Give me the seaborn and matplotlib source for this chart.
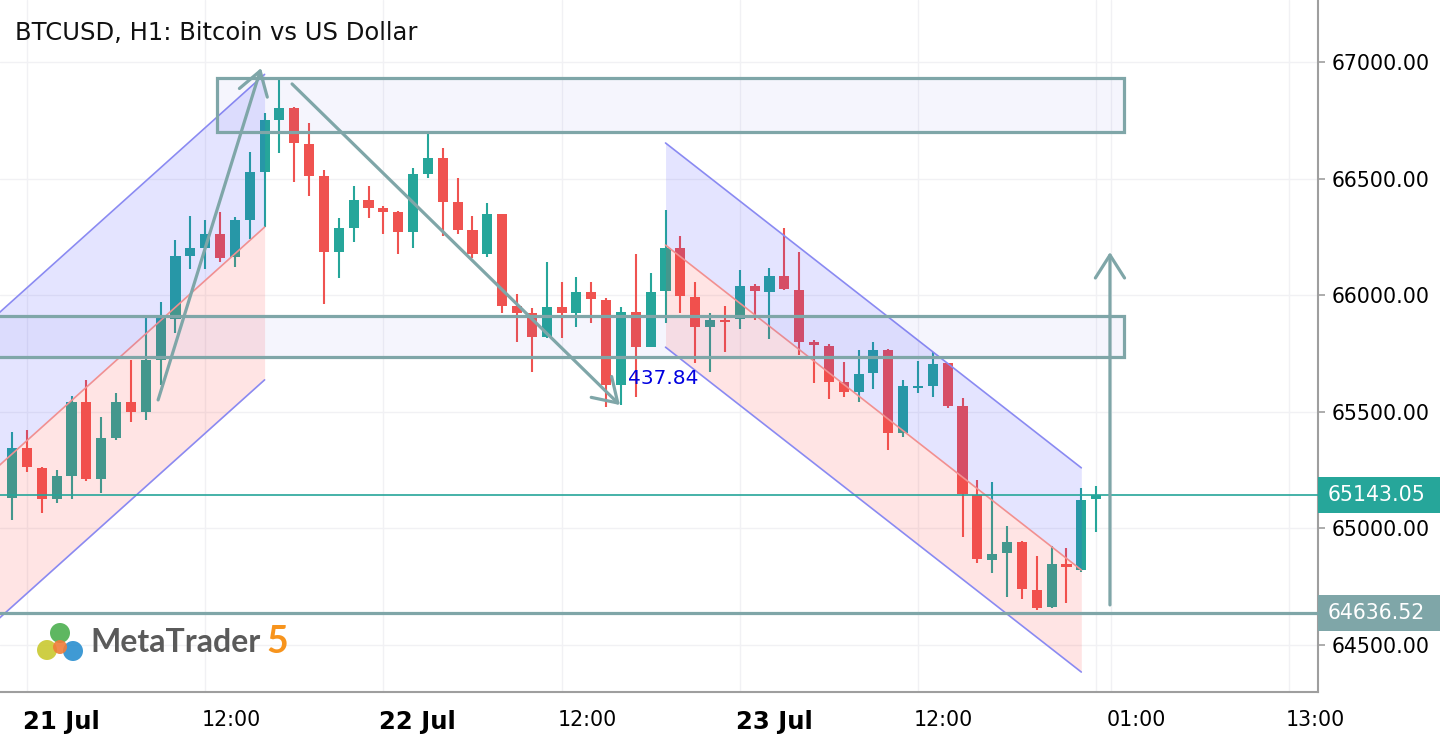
import numpy as np
import pandas as pd
import matplotlib
matplotlib.use("Agg")
import matplotlib.pyplot as plt
import matplotlib.transforms as mtransforms
from matplotlib.patches import Rectangle, Circle
import seaborn as sns

# hourly candles, hour 0 = 21 Jul 00:00
hours = list(range(-1, 73))
opens = [65130, 65344, 65258, 65125, 65225, 65543, 65211, 65386, 65543, 65500,
         65722, 65897, 66168, 66201, 66262, 66165, 66323, 66530, 66751, 66801,
         66648, 66511, 66187, 66289, 66408, 66375, 66356, 66272, 66518, 66587,
         66398, 66280, 66177, 66347, 65954, 65922, 65820, 65951, 65922, 66012,
         65979, 65615, 65927, 65779, 66019, 66201, 65994, 65862, 65894, 65897,
         66039, 66015, 66082, 66022, 65801, 65782, 65629, 65586, 65665, 65765,
         65408, 65601, 65611, 65708, 65525, 65143, 64865, 64893, 64943, 64736,
         64662, 64847, 64822, 65125]
highs = [65415, 65422, 65262, 65250, 65568, 65636, 65479, 65579, 65722, 65905,
         65972, 66237, 66340, 66323, 66358, 66334, 66615, 66780, 66923, 66805,
         66737, 66537, 66330, 66468, 66468, 66383, 66360, 66544, 66691, 66630,
         66501, 66340, 66397, 66350, 66004, 65944, 66141, 66058, 66079, 66055,
         65987, 65951, 66177, 66097, 66365, 66254, 66058, 65925, 65954, 66108,
         66048, 66115, 66287, 66187, 65808, 65791, 65712, 65765, 65798, 65768,
         65636, 65719, 65758, 65710, 65558, 65208, 65200, 65010, 64946, 64882,
         64925, 64915, 65172, 65182]
lows = [65036, 65243, 65065, 65108, 65125, 65205, 65151, 65379, 65458, 65465,
        65615, 65837, 66111, 66111, 66144, 66120, 66240, 66291, 66609, 66487,
        66425, 65962, 66075, 66230, 66332, 66262, 66177, 66204, 66504, 66254,
        66262, 66158, 66163, 65922, 65801, 65672, 65818, 65818, 65862, 65880,
        65519, 65529, 65565, 65777, 65880, 65922, 65708, 65672, 65758, 65854,
        65894, 65811, 66022, 65744, 65622, 65554, 65562, 65543, 65597, 65336,
        65391, 65579, 65562, 65518, 64962, 64850, 64808, 64705, 64696, 64650,
        64660, 64679, 64814, 64986]
closes = [65345, 65262, 65125, 65225, 65543, 65211, 65386, 65543, 65500, 65722,
          65901, 66168, 66201, 66262, 66158, 66323, 66527, 66751, 66801, 66651,
          66513, 66187, 66287, 66408, 66375, 66358, 66272, 66518, 66587, 66401,
          66280, 66177, 66347, 65954, 65922, 65820, 65951, 65922, 66012, 65982,
          65615, 65927, 65779, 66012, 66201, 65998, 65862, 65894, 65886, 66039,
          66018, 66082, 66025, 65801, 65786, 65629, 65586, 65662, 65765, 65408,
          65611, 65611, 65705, 65525, 65148, 64868, 64890, 64943, 64739, 64657,
          64847, 64833, 65122, 65143.05]

# regression channels: start/end hour, middle price at both ends, half width
ch1_hours = [-4, 16]
ch1_mid = [65148, 66292]
ch1_half = 655
ch2_hours = [43, 71]
ch2_mid = [66215, 64822]
ch2_half = 437.84

# zones: (hour from, hour to, price low, price high)
zone_top = (12.8, 73.87, 66700, 66931)
zone_mid = (-3, 73.87, 65735, 65911)

# arrows: (hour, price) start -> tip
arrow_up1 = ((8.83, 65551), (15.76, 66974))
arrow_down = ((17.85, 66906), (39.93, 65529))
arrow_up2 = ((72.93, 64672), (72.93, 66185))
arrow_label = "437.84"
arrow_label_pos = (40.45, 65645)

last_price = 65143.05
support_price = 64636.52

y_ticks = [64500, 65000, 65500, 66000, 66500, 67000]
x_ticks = [0, 12, 24, 36, 48, 60, 72, 73, 85]
x_labels = ["21 Jul", "12:00", "22 Jul", "12:00", "23 Jul", "12:00", "", "01:00", "13:00"]

BULL = "#26a69a"
BEAR = "#ef5350"
ZONE = "#7fa6a8"
AXIS = "#9e9e9e"

sns.set_theme(style="white")
plt.rcParams["font.family"] = ["DejaVu Sans"]

W, H = 1442, 740
fig = plt.figure(figsize=(W / 100, H / 100), dpi=100)
ax = fig.add_axes([0, 48 / H, 1318 / W, 692 / H])

df = pd.DataFrame({"t": hours, "o": opens, "h": highs, "l": lows, "c": closes})
df["up"] = df["c"] >= df["o"]
colors = np.where(df["up"], BULL, BEAR)
body_lo = np.minimum(df["o"], df["c"])
body_h = np.maximum(np.abs(df["c"] - df["o"]), 5)

ax.vlines(df["t"], df["l"], df["h"], colors=colors, lw=1.5, zorder=2)
ax.bar(df["t"], body_h, bottom=body_lo, width=0.68, color=colors, lw=0, zorder=2)

# channels
for hrs, mid, half in [(ch1_hours, ch1_mid, ch1_half), (ch2_hours, ch2_mid, ch2_half)]:
    t = np.array(hrs, dtype=float)
    m = np.array(mid, dtype=float)
    ax.fill_between(t, m, m + half, color=(0.2, 0.2, 1.0), alpha=0.13, lw=0, zorder=3)
    ax.fill_between(t, m - half, m, color=(1.0, 0.25, 0.25), alpha=0.14, lw=0, zorder=3)
    sns.lineplot(x=t, y=m + half, color="#8a8af2", lw=1.2, ax=ax, zorder=3)
    sns.lineplot(x=t, y=m - half, color="#8a8af2", lw=1.2, ax=ax, zorder=3)
    sns.lineplot(x=t, y=m, color="#f29090", lw=1.2, ax=ax, zorder=3)

# zones
for x0, x1, p0, p1 in [zone_top, zone_mid]:
    ax.add_patch(Rectangle((x0, p0), x1 - x0, p1 - p0, facecolor=(0.3, 0.3, 0.9, 0.05),
                           edgecolor=ZONE, lw=2.3, zorder=4))

# horizontal levels
ax.axhline(last_price, color=BULL, lw=1.2, zorder=4)
ax.axhline(support_price, color=ZONE, lw=2.3, zorder=4)

# arrows
for (start, tip) in [arrow_up1, arrow_down, arrow_up2]:
    ax.annotate("", xy=tip, xytext=start,
                arrowprops=dict(arrowstyle="->,head_length=1.65,head_width=1.05",
                                color=ZONE, lw=2.3, mutation_scale=10,
                                shrinkA=0, shrinkB=0),
                zorder=5)
ax.text(arrow_label_pos[0], arrow_label_pos[1], arrow_label, color="#0000e0",
        fontsize=14.5, ha="left", va="center", zorder=6)

# axes
ax.set_xlim(-1.818, 86.94)
ax.set_ylim(64298.6, 67265.9)
for s in ["left", "top"]:
    ax.spines[s].set_visible(False)
for s in ["right", "bottom"]:
    ax.spines[s].set_color(AXIS)
    ax.spines[s].set_linewidth(1.5)

ax.yaxis.tick_right()
ax.set_yticks(y_ticks)
ax.set_yticklabels([f"{v:.2f}" for v in y_ticks])
ax.set_xticks(x_ticks)
ax.set_xticklabels(x_labels, ha="left")
ax.tick_params(axis="both", colors=AXIS, length=5, width=1.2, labelcolor="black",
               labelsize=14.8)
ax.tick_params(axis="y", pad=5)
ax.tick_params(axis="x", pad=8)
offset = mtransforms.ScaledTranslation(-4 / 100, 0, fig.dpi_scale_trans)
for lab, txt in zip(ax.get_xticklabels(), x_labels):
    lab.set_transform(lab.get_transform() + offset)
    if "Jul" in txt:
        lab.set_fontweight("bold")
        lab.set_fontsize(17.5)

ax.grid(True, color="#f1f1f4", lw=1.0, zorder=0)
ax.set_axisbelow(True)

# price tags on the axis
tag_h = 77
for price, fc in [(last_price, BULL), (support_price, ZONE)]:
    blend = mtransforms.blended_transform_factory(ax.transAxes, ax.transData)
    ax.add_patch(Rectangle((1.0, price - tag_h), 122 / 1318, 2 * tag_h, transform=blend,
                           facecolor=fc, edgecolor="none", clip_on=False, zorder=6))
    ax.text(1.0 + 10 / 1318, price, f"{price:.2f}", transform=blend, color="white",
            fontsize=14.8, ha="left", va="center", clip_on=False, zorder=7)

# title
fig.text(15 / W, 1 - 33 / H, "BTCUSD, H1: Bitcoin vs US Dollar", fontsize=17.5,
         ha="left", va="center", color="#111111")

# logo
pix = mtransforms.IdentityTransform()
for cx, cy, r, col in [(60, 633, 10, "#4caf50"), (47, 650, 10, "#c9c930"),
                       (73, 651, 10, "#2a8fd0"), (60, 647, 7, "#f07d3a")]:
    fig.patches.append(Circle((cx, H - cy), r, transform=pix, facecolor=col,
                              edgecolor="none", alpha=0.9))
fig.text(90 / W, 1 - 642 / H, "MetaTrader", fontsize=23, family="Lato",
         fontweight="bold", color="#5a5a5a", ha="left", va="center")
fig.text(266 / W, 1 - 642 / H, "5", fontsize=27, family="Lato", fontweight="bold",
         color="#f7941d", ha="left", va="center")

fig.savefig("out.png", dpi=100)
